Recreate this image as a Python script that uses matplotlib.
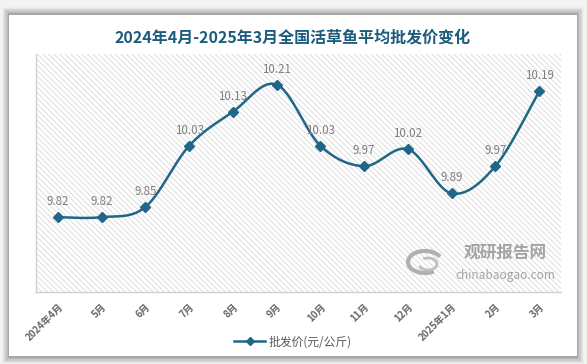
import numpy as np
import matplotlib
matplotlib.use("Agg")
import matplotlib.pyplot as plt
from matplotlib.patches import Rectangle, Arc
from matplotlib.lines import Line2D

plt.rcParams['font.family'] = ['Noto Sans CJK SC', 'DejaVu Sans']
plt.rcParams['hatch.linewidth'] = 0.6

title = "2024年4月-2025年3月全国活草鱼平均批发价变化"
months = ["2024年4月", "5月", "6月", "7月", "8月", "9月", "10月", "11月", "12月",
          "2025年1月", "2月", "3月"]
prices = [9.82, 9.82, 9.85, 10.03, 10.13, 10.21, 10.03, 9.97, 10.02, 9.89, 9.97, 10.19]
series_name = "批发价(元/公斤)"

line_color = "#1f6688"
W, H = 587, 364
fig = plt.figure(figsize=(W / 100, H / 100), dpi=100)
fig.patch.set_facecolor("#f3f3f3")

# soft shadow around card
for i, a in enumerate(np.linspace(0.02, 0.10, 6)):
    pad = (6 - i) * 1.2
    fig.patches.append(Rectangle(((9 - pad) / W, 1 - (357 + pad) / H),
                                 (568 + 2 * pad) / W, (343 + 2 * pad) / H,
                                 transform=fig.transFigure, facecolor="black",
                                 edgecolor="none", alpha=a, zorder=-3))
fig.patches.append(Rectangle((9 / W, 1 - 356 / H), 568 / W, 341 / H,
                             transform=fig.transFigure, facecolor="white",
                             edgecolor="none", zorder=-2))

fig.text(293 / W, 1 - 38 / H, title, ha="center", va="center", fontsize=11.5,
         fontweight="bold", color="#1b5b7c")

left, right, top, bottom = 36, 561, 54, 292
ax = fig.add_axes([left / W, 1 - bottom / H, (right - left) / W, (bottom - top) / H])
ax.set_facecolor("white")
ax.add_patch(Rectangle((0, 0), 1, 1, transform=ax.transAxes, facecolor="white",
                       edgecolor="#d8d8d8", hatch="\\\\\\\\\\\\", lw=0, zorder=0))

x = np.arange(len(prices))
y = np.array(prices)

# Catmull-Rom smoothing (Excel-style smoothed line)
P = np.column_stack([x, y]).astype(float)
Pext = np.vstack([P[0], P, P[-1]])
curve = []
t = np.linspace(0, 1, 30)
for i in range(len(P) - 1):
    p0, p1, p2, p3 = Pext[i], Pext[i + 1], Pext[i + 2], Pext[i + 3]
    c1 = p1 + (p2 - p0) / 6
    c2 = p2 - (p3 - p1) / 6
    seg = ((1 - t) ** 3)[:, None] * p1 + (3 * (1 - t) ** 2 * t)[:, None] * c1 + \
          (3 * (1 - t) * t ** 2)[:, None] * c2 + (t ** 3)[:, None] * p2
    curve.append(seg)
curve = np.vstack(curve)
ax.plot(curve[:, 0], curve[:, 1], color=line_color, lw=1.8, zorder=3,
        solid_capstyle="round")
ax.plot(x, y, linestyle="none", marker="D", markersize=5, color=line_color, zorder=4)

for xi, yi in zip(x, y):
    ax.annotate(f"{yi:.2f}", (xi, yi), xytext=(0, 6.5), textcoords="offset points",
                ha="center", va="bottom", fontsize=8.3, color="#7f7f7f")

ax.set_xlim(-0.5, len(prices) - 0.5)
ax.set_ylim(9.6, 10.3)
ax.set_yticks([])
ax.set_xticks(x)
ax.set_xticklabels(months, rotation=45, ha="right", rotation_mode="anchor",
                   fontsize=7, color="#666666", fontweight="bold")
ax.tick_params(axis="x", length=0, pad=7)
for s in ["top", "right"]:
    ax.spines[s].set_visible(False)
for s in ["left", "bottom"]:
    ax.spines[s].set_color("#d0d0d0")
    ax.spines[s].set_linewidth(1.0)

# watermark
fig.text(505 / W, 1 - 253 / H, "观研报告网", ha="center", va="center", fontsize=12,
         fontweight="bold", color="#9a9a9a", alpha=0.9, zorder=5)
fig.text(505 / W, 1 - 276 / H, "chinabaogao.com", ha="center", va="center", fontsize=8.5,
         color="#9a9a9a", alpha=0.9, zorder=5)
fig.patches.append(Arc((425 / W, 1 - 262 / H), 34 / W, 22 / H, theta1=30, theta2=300,
                       transform=fig.transFigure, color="#b0b0b0", lw=3, zorder=5))
fig.patches.append(Arc((428 / W, 1 - 264 / H), 18 / W, 12 / H, theta1=200, theta2=480,
                       transform=fig.transFigure, color="#c0c0c0", lw=2, zorder=5))

handle = Line2D([], [], color=line_color, lw=1.8, marker="D", markersize=4.5)
fig.legend([handle], [series_name], loc="center", bbox_to_anchor=(293 / W, 1 - 342 / H),
           frameon=False, fontsize=8.5, labelcolor="#595959", handlelength=2.6,
           handletextpad=0.3)

fig.savefig("out.png", dpi=100, facecolor=fig.get_facecolor())
